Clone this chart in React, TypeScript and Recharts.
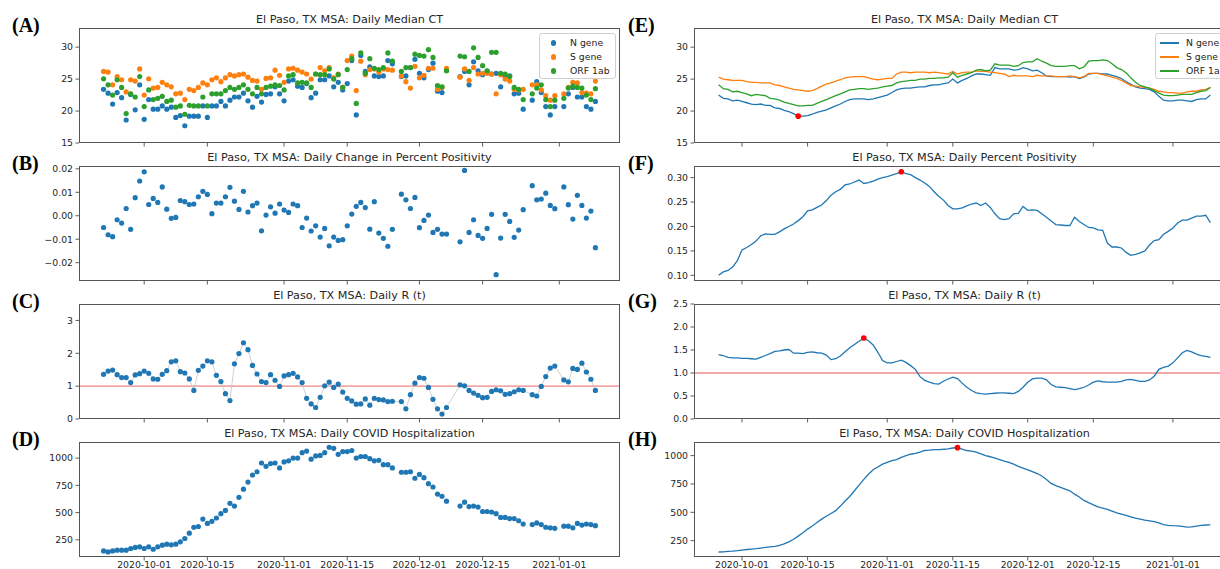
import React from "react";
import {
  ScatterChart,
  Scatter,
  ComposedChart,
  Line,
  XAxis,
  YAxis,
  ReferenceLine,
  ReferenceDot,
} from "recharts";

// x positions are days counted from 2020-10-01
const X_TICKS = [0, 14, 31, 45, 61, 75, 92];
const X_TICK_LABELS = ["2020-10-01", "2020-10-15", "2020-11-01", "2020-11-15", "2020-12-01", "2020-12-15", "2021-01-01"];

const FIRST_DAY_RAW = -9; // left column: 2020-09-22 .. 2021-01-09
const FIRST_DAY_SMOOTH = -5; // right column: 2020-09-26 .. 2021-01-09

// (A) daily median CT
const CT_N = [
  23.4, 22.8, 21.1, 22.9, 22.1, 18.6, 22.6, 20.2, 24.1, 18.7,
  21.8, 20.3, 20.3, 20.8, 20.3, 20.6, 19.0, 19.3, 17.7, 19.2,
  19.2, 19.2, 20.8, 19.0, 20.8, 20.8, 21.5, 20.8, 21.7, 22.2,
  22.2, 22.8, 21.6, 20.6, 22.3, 21.4, 22.6, 22.7, 23.8, 22.7,
  21.6, 24.7, 24.9, 23.9, 23.7, 24.3, 22.1, 22.8, 24.9, 24.9,
  25.5, 23.8, 24.5, 23.3, 24.3, 27.9, 19.4, 28.7, 26.2, 26.9,
  25.5, 25.4, 25.5, 27.9, 27.4, null, 25.4, 25.5, 26.8, 28.1,
  25.9, 25.2, 26.5, 27.5, 23.1, 22.9, 26.4, null, null, 25.4,
  26.2, 24.1, 27.7, 26.3, 25.7, 26.2, 25.8, 25.9, 23.8, 25.4,
  25.5, 22.7, 22.8, 20.3, null, 21.7, 24.6, 22.9, 20.7, 19.4,
  20.7, null, 20.7, 22.7, 23.7, 22.2, 22.2, 20.7, 20.3, 21.5,
];
const CT_S = [
  26.2, 26.1, 24.1, 25.4, 24.9, 23.0, 24.9, 24.7, 26.6, 22.5,
  25.05, 23.6, 23.7, 24.5, 24.1, 23.8, 22.7, 22.8, 21.8, 23.4,
  23.2, 23.7, 24.4, 24.1, 24.9, 25.2, 24.6, 25.2, 25.7, 25.5,
  25.7, 25.8, 25.3, 24.8, 24.7, 23.4, 25.1, 25.2, 26.4, 25.6,
  24.5, 26.6, 26.7, 26.4, 26.1, 25.8, 25.0, 25.8, 26.8, 26.3,
  26.8, 25.2, 25.8, 23.7, 27.9, 28.6, 23.2, 27.8, 25.7, 26.5,
  26.6, 26.1, 26.6, 26.5, 26.4, null, 25.5, 24.6, 23.6, 27.0,
  25.2, 25.6, 26.7, 26.7, 23.4, 23.7, 26.7, null, null, 25.3,
  26.6, 24.8, 26.8, 25.8, 25.9, 25.9, 25.8, 22.7, 25.7, 25.0,
  24.7, 23.4, 23.3, 23.4, null, 24.1, 24.1, 23.3, 22.4, 21.7,
  22.4, null, 22.7, 23.7, 24.5, 24.4, 22.9, 22.8, 22.7, 24.7,
];
const CT_ORF = [
  25.05, 24.1, 22.5, 24.9, 23.7, 19.6, 22.7, 22.2, 25.4, 20.7,
  23.3, 21.8, 22.0, 22.3, 21.5, 21.7, 20.6, 20.8, 19.5, 20.9,
  20.8, 20.8, 22.2, 20.8, 22.7, 22.7, 22.7, 23.2, 23.7, 23.4,
  23.7, 24.1, 23.4, 22.7, 23.7, 22.7, 23.7, 23.9, 24.1, 24.0,
  23.3, 25.5, 25.7, 24.4, 24.5, 24.4, 23.7, 25.8, 25.7, 25.7,
  26.6, 25.0, 25.7, 23.7, 26.5, 28.2, 21.2, 29.1, 25.9, 28.2,
  26.7, 26.5, 26.8, 29.1, 27.8, null, 26.2, 26.8, 26.8, 28.9,
  28.7, 28.6, 29.6, 28.4, 24.0, 23.8, 26.3, null, null, 28.6,
  28.5, 26.2, 29.9, 28.4, 27.1, 26.3, 29.2, 29.2, 25.9, 25.8,
  25.4, 23.7, 23.4, 21.8, null, 22.7, 23.6, 24.1, 21.8, 20.7,
  21.7, null, 22.0, 23.6, 23.9, 23.7, 23.6, 22.5, 21.8, 23.5,
];

// (B) daily change in percent positivity
const POS_CHANGE = [
  -0.005, -0.0081, -0.0089, -0.0017, -0.0031, 0.0031, -0.0058, 0.0077, 0.0148, 0.0187,
  0.0048, 0.0074, 0.0057, 0.0123, 0.0028, -0.0011, -0.0007, 0.0065, 0.006, 0.0048,
  0.005, 0.0081, 0.0104, 0.0091, 0.0009, 0.0054, 0.0054, 0.0081, 0.0121, 0.0062,
  0.0027, 0.0104, 0.0016, 0.0043, 0.0054, -0.0064, 0.0003, 0.0038, 0.0011, 0.005,
  0.0024, 0.0014, 0.005, 0.0043, -0.005, -0.001, -0.0065, -0.0043, -0.0091, -0.0054,
  -0.0128, -0.0091, -0.0105, -0.0102, -0.0043, 0.0007, 0.004, 0.0057, 0.0035, -0.0057,
  0.006, -0.0074, -0.0096, -0.013, -0.0058, null, 0.0092, 0.0068, 0.0031, 0.0078,
  -0.0051, -0.002, 0.0003, -0.0071, -0.0058, -0.0078, -0.0078, null, null, -0.0111,
  0.0193, -0.0071, -0.0017, -0.0084, -0.0096, -0.0054, 0.0006, -0.0251, -0.0095, 0.0006,
  -0.0024, -0.0092, -0.0061, 0.0026, null, 0.0128, 0.0068, 0.0071, 0.0096, 0.0044,
  0.003, null, 0.0123, 0.0047, -0.0014, 0.0087, 0.0044, -0.001, 0.002, -0.0136,
];

// (C) daily R(t)
const RT_DAILY = [
  1.36, 1.46, 1.49, 1.35, 1.26, 1.26, 1.11, 1.34, 1.38, 1.46,
  1.39, 1.22, 1.21, 1.36, 1.47, 1.74, 1.77, 1.44, 1.4, 1.22,
  0.87, 1.48, 1.61, 1.77, 1.74, 1.33, 1.14, 0.77, 0.56, 1.68,
  1.99, 2.32, 2.11, 1.63, 1.37, 1.14, 1.11, 1.35, 1.18, 0.99,
  1.31, 1.35, 1.39, 1.28, 1.11, 0.63, 0.46, 0.35, 0.66, 1.01,
  1.12, 0.96, 1.06, 0.82, 0.63, 0.55, 0.45, 0.46, 0.61, 0.42,
  0.63, 0.59, 0.58, 0.53, 0.54, null, 0.53, 0.31, 0.74, 1.09,
  1.26, 1.24, 0.96, 0.6, 0.31, 0.15, 0.35, null, null, 1.04,
  1.01, 0.87, 0.79, 0.72, 0.65, 0.66, 0.84, 0.89, 0.86, 0.75,
  0.77, 0.83, 0.89, 0.87, null, 0.74, 0.7, 0.99, 1.29, 1.55,
  1.61, null, 1.19, 1.13, 1.54, 1.51, 1.7, 1.43, 1.21, 0.87,
];

// (D) daily COVID hospitalization
const HOSP_DAILY = [
  148, 139, 148, 155, 155, 155, 170, 180, 185, 170,
  185, 163, 185, 201, 210, 204, 210, 231, 262, 311,
  365, 372, 440, 400, 420, 450, 490, 520, 585, 560,
  640, 715, 780, 845, 875, 955, 925, 950, 955, 910,
  965, 975, 1000, 1000, 1050, 1065, 990, 1020, 1025, 1050,
  1100, 1090, 1035, 1060, 1060, 1070, 1000, 1015, 1015, 995,
  975, 980, 940, 940, 910, null, 870, 870, 875, 815,
  850, 820, 765, 735, 670, 650, 605, null, null, 560,
  595, 555, 560, 550, 510, 510, 505, 490, 455, 455,
  445, 445, 425, 395, null, 390, 405, 390, 365, 360,
  355, null, 375, 375, 360, 400, 385, 395, 390, 380,
];

// (E) smoothed median CT
const SM_N = [
  22.5, 22.0, 21.9, 21.6, 21.7, 21.5, 21.3, 21.1, 21.0, 21.1,
  20.9, 20.9, 20.5, 20.4, 20.1, 19.9, 19.6, 19.2, 19.2, 19.3,
  19.5, 19.8, 20.0, 20.2, 20.5, 20.8, 21.1, 21.5, 21.8, 21.9,
  21.9, 21.9, 21.8, 21.9, 22.1, 22.3, 22.5, 22.9, 23.3, 23.5,
  23.6, 23.6, 23.7, 23.8, 23.8, 24.0, 24.1, 24.1, 24.3, 24.4,
  25.0, 24.4, 24.8, 25.1, 25.5, 25.8, 25.8, 25.7, 25.6, 26.8,
  26.6, 26.6, 26.6, 26.4, 26.5, 26.8, 26.6, 26.3, 26.4, 26.0,
  25.5, 25.4, 25.4, 25.4, 25.4, 25.3, 25.4, 25.1, 25.3, 25.8,
  25.9, 25.9, 25.8, 25.8, 25.6, 25.4, 25.1, 24.6, 24.2, 23.8,
  23.6, 23.5, 23.4, 23.0, 22.3, 21.7, 21.6, 21.6, 21.7, 21.7,
  21.6, 21.5, 21.8, 21.9, 21.9, 22.5,
];
const SM_S = [
  25.3, 25.0, 24.9, 24.8, 24.8, 24.8, 24.6, 24.5, 24.5, 24.4,
  24.4, 24.4, 24.1, 24.0, 23.8, 23.6, 23.4, 23.3, 23.2, 23.1,
  23.2, 23.5, 23.9, 24.2, 24.4, 24.7, 24.9, 25.2, 25.3, 25.4,
  25.4, 25.4, 25.2, 25.0, 24.9, 25.0, 25.1, 25.1, 25.8, 26.1,
  26.1, 26.0, 26.1, 26.1, 26.1, 26.0, 26.1, 26.0, 25.9, 25.8,
  26.2, 25.8, 26.0, 26.1, 26.1, 26.3, 26.2, 26.2, 26.1, 26.0,
  25.9, 25.8, 25.4, 25.6, 25.5, 25.5, 25.5, 25.4, 25.6, 25.5,
  25.5, 25.5, 25.4, 25.4, 25.4, 25.5, 25.4, 25.2, 25.4, 25.9,
  25.9, 25.9, 25.7, 25.5, 25.3, 25.1, 24.8, 24.4, 24.0, 23.9,
  23.8, 23.7, 23.6, 23.4, 23.1, 23.0, 22.9, 22.9, 22.8, 22.8,
  23.0, 23.1, 23.1, 23.3, 23.4, 23.7,
];
const SM_ORF = [
  24.1, 23.5, 23.4, 23.0, 23.1, 22.9, 22.7, 22.4, 22.6, 22.5,
  22.4, 22.0, 21.9, 21.7, 21.4, 21.2, 21.0, 20.8, 20.8, 20.9,
  20.9, 21.2, 21.5, 21.8, 22.1, 22.4, 22.7, 23.0, 23.3, 23.4,
  23.5, 23.5, 23.4, 23.5, 23.6, 23.8, 23.9, 24.0, 24.4, 24.6,
  24.7, 24.8, 24.8, 25.0, 25.0, 25.1, 25.1, 25.2, 25.2, 25.3,
  26.0, 25.3, 25.6, 25.8, 26.0, 26.4, 26.5, 26.3, 26.4, 27.4,
  27.2, 27.2, 27.2, 27.0, 27.1, 27.6, 27.7, 27.7, 28.2, 27.8,
  27.5, 27.1, 27.0, 27.0, 27.0, 27.1, 27.1, 26.6, 26.9, 27.8,
  27.9, 27.9, 28.0, 27.9, 27.4, 26.8, 26.5, 26.0, 25.2, 24.5,
  24.0, 23.8, 23.6, 23.2, 22.8, 22.5, 22.4, 22.4, 22.5, 22.6,
  22.6, 22.6, 22.9, 23.1, 23.2, 23.7,
];

// (F) smoothed percent positivity
const SM_POS = [
  0.1, 0.107, 0.11, 0.117, 0.13, 0.152, 0.157, 0.163, 0.17, 0.181,
  0.185, 0.184, 0.184, 0.189, 0.195, 0.2, 0.205, 0.212, 0.22, 0.232,
  0.234, 0.239, 0.244, 0.253, 0.264, 0.271, 0.276, 0.285, 0.287, 0.291,
  0.295, 0.288, 0.29, 0.293, 0.297, 0.3, 0.302, 0.305, 0.308, 0.312,
  0.308, 0.306, 0.3, 0.295, 0.289, 0.282, 0.271, 0.262, 0.254, 0.243,
  0.236, 0.236, 0.238, 0.242, 0.246, 0.248, 0.243, 0.248, 0.239, 0.226,
  0.216, 0.214, 0.216, 0.226, 0.227, 0.241, 0.233, 0.234, 0.233, 0.226,
  0.219, 0.211, 0.204, 0.203, 0.202, 0.202, 0.219, 0.21, 0.204, 0.198,
  0.197, 0.193, 0.192, 0.166, 0.158, 0.158, 0.156, 0.147, 0.141, 0.143,
  0.146, 0.15, 0.162, 0.171, 0.173, 0.184, 0.19, 0.197, 0.207, 0.213,
  0.213, 0.217, 0.221, 0.221, 0.223, 0.208,
];

// (G) smoothed R(t)
const SM_RT = [
  1.4, 1.38, 1.34, 1.33, 1.33, 1.32, 1.32, 1.31, 1.3, 1.34,
  1.38, 1.42, 1.47, 1.48, 1.5, 1.51, 1.43, 1.43, 1.42, 1.45,
  1.46, 1.44, 1.43, 1.39, 1.29, 1.31, 1.37, 1.46, 1.55, 1.62,
  1.69, 1.76, 1.7, 1.61, 1.45, 1.27, 1.22, 1.22, 1.25, 1.28,
  1.23, 1.16, 1.08, 0.92, 0.84, 0.8, 0.77, 0.76, 0.82, 0.87,
  0.91, 0.88, 0.78, 0.69, 0.62, 0.57, 0.55, 0.54, 0.55, 0.56,
  0.57, 0.57, 0.56, 0.55, 0.6, 0.69, 0.8, 0.87, 0.89, 0.89,
  0.85, 0.75, 0.7, 0.69, 0.68, 0.66, 0.64, 0.66, 0.69, 0.74,
  0.8, 0.83, 0.81, 0.8, 0.8, 0.8, 0.82, 0.85, 0.86, 0.84,
  0.82, 0.82, 0.85, 0.93, 1.08, 1.12, 1.15, 1.22, 1.33, 1.44,
  1.49, 1.46, 1.41, 1.38, 1.36, 1.34,
];

// (H) smoothed hospitalization
const SM_HOSP = [
  150, 152, 155, 158, 162, 167, 172, 176, 180, 185,
  190, 196, 200, 208, 222, 240, 262, 290, 320, 352,
  380, 410, 440, 465, 490, 515, 555, 600, 640, 690,
  740, 790, 835, 875, 900, 925, 940, 955, 965, 985,
  1000, 1012, 1020, 1030, 1045, 1048, 1052, 1053, 1056, 1060,
  1067, 1070, 1058, 1045, 1040, 1030, 1015, 1000, 990, 978,
  965, 952, 940, 925, 905, 890, 875, 858, 842, 820,
  790, 755, 735, 720, 705, 690, 660, 635, 605, 585,
  565, 548, 538, 525, 510, 496, 484, 472, 460, 448,
  440, 432, 425, 418, 406, 392, 385, 382, 380, 376,
  370, 372, 378, 385, 388, 389,
];

const BLUE = "#1f77b4";
const ORANGE = "#ff7f0e";
const GREEN = "#2ca02c";
const TICK_FONT = { fontSize: 9.3, fill: "#262626", fontFamily: "DejaVu Sans" };

const PLOT_W = 541;
const PLOT_H = 115;
const Y_W = 45;
const TOP_PAD = 20;
const X_H = 25;
const ROW_TOPS = [28, 166, 304, 442];
const LEFT_X = 79;
const RIGHT_X = 694;
const LEFT_DOMAIN = [-14.45, 105.45];
const RIGHT_DOMAIN = [-10.25, 105.25];

const points = (vals: (number | null)[], first: number) =>
  vals.map((v, i) => ({ day: first + i, v })).filter((p) => p.v !== null);

const rows = (first: number, cols: Record<string, (number | null)[]>) => {
  const n = Object.values(cols)[0].length;
  return Array.from({ length: n }, (_, i) => {
    const r: any = { day: first + i };
    Object.keys(cols).forEach((k) => (r[k] = cols[k][i]));
    return r;
  });
};

const peak = (vals: number[], first: number, useMin = false) => {
  let idx = 0;
  vals.forEach((v, i) => {
    if (useMin ? v < vals[idx] : v > vals[idx]) idx = i;
  });
  return { day: first + idx, v: vals[idx] };
};

const minus = (s: string) => s.replace("-", "\u2212");

function xAxis(domain: number[], showLabels: boolean) {
  return (
    <XAxis
      type="number"
      dataKey="day"
      domain={domain}
      allowDataOverflow
      ticks={X_TICKS}
      interval={0}
      height={X_H}
      axisLine={false}
      tickSize={3.5}
      tickMargin={0.5}
      tickLine={{ stroke: "#333", strokeWidth: 0.8 }}
      tick={TICK_FONT}
      tickFormatter={(v: number) => (showLabels ? X_TICK_LABELS[X_TICKS.indexOf(v)] : "")}
    />
  );
}

function yAxis(domain: number[], ticks: number[], fmt: (v: number) => string) {
  return (
    <YAxis
      type="number"
      dataKey="v"
      domain={domain}
      allowDataOverflow
      ticks={ticks}
      interval={0}
      width={Y_W}
      axisLine={false}
      tickSize={3.5}
      tickMargin={2.5}
      tickLine={{ stroke: "#333", strokeWidth: 0.8 }}
      tick={TICK_FONT}
      tickFormatter={fmt}
    />
  );
}

const dot = (color: string) => (p: any) =>
  p.cx == null || p.cy == null ? <g /> : <circle cx={p.cx} cy={p.cy} r={2.6} fill={color} />;

function Panel({ x, row, title, label, labelX, children }: any) {
  const top = ROW_TOPS[row];
  return (
    <>
      <div style={{ position: "absolute", left: x - Y_W, top: top - TOP_PAD }}>{children}</div>
      <div
        style={{
          position: "absolute",
          left: x,
          top,
          width: PLOT_W,
          height: PLOT_H,
          border: "1px solid #555",
          boxSizing: "border-box",
          pointerEvents: "none",
        }}
      />
      <div
        style={{
          position: "absolute",
          left: x,
          top: top - 14,
          width: PLOT_W,
          textAlign: "center",
          fontFamily: "DejaVu Sans",
          fontSize: 11.2,
          lineHeight: "12px",
          color: "#262626",
          whiteSpace: "nowrap",
        }}
      >
        {title}
      </div>
      <div
        style={{
          position: "absolute",
          left: labelX,
          top: top - 13,
          fontFamily: "Liberation Serif",
          fontWeight: 700,
          fontSize: 20,
          lineHeight: "20px",
          color: "#000",
        }}
      >
        {label}
      </div>
    </>
  );
}

function LegendBox({ left, kind }: { left: number; kind: "dot" | "line" }) {
  const items = [
    ["N gene", BLUE],
    ["S gene", ORANGE],
    ["ORF 1ab", GREEN],
  ];
  return (
    <div
      style={{
        position: "absolute",
        left,
        top: 33,
        width: 77,
        height: 46,
        border: "1px solid #d0d0d0",
        borderRadius: 3,
        background: "rgba(255,255,255,0.85)",
        boxSizing: "border-box",
      }}
    >
      {items.map(([name, color], i) => (
        <div key={name} style={{ position: "absolute", left: 0, top: 3 + i * 14, height: 12, width: 90 }}>
          {kind === "dot" ? (
            <div
              style={{
                position: "absolute",
                left: 10.5,
                top: 3.4,
                width: 5.2,
                height: 5.2,
                borderRadius: "50%",
                background: color,
              }}
            />
          ) : (
            <div style={{ position: "absolute", left: 3.5, top: 5.3, width: 19, height: 1.4, background: color }} />
          )}
          <div
            style={{
              position: "absolute",
              left: 30,
              top: 0,
              fontFamily: "DejaVu Sans",
              fontSize: 9.3,
              lineHeight: "12px",
              color: "#262626",
              whiteSpace: "nowrap",
            }}
          >
            {name}
          </div>
        </div>
      ))}
    </div>
  );
}

export default function App() {
  const W = Y_W + PLOT_W + 5;
  const H = TOP_PAD + PLOT_H + X_H;
  const margin = { top: TOP_PAD, right: 5, bottom: 0, left: 0 };

  const smCt = rows(FIRST_DAY_SMOOTH, { n: SM_N, s: SM_S, orf: SM_ORF });
  const smPos = rows(FIRST_DAY_SMOOTH, { v: SM_POS });
  const smRt = rows(FIRST_DAY_SMOOTH, { v: SM_RT });
  const smHosp = rows(FIRST_DAY_SMOOTH, { v: SM_HOSP });
  const rtRows = rows(FIRST_DAY_RAW, { v: RT_DAILY });

  const ctMin = peak(SM_N, FIRST_DAY_SMOOTH, true);
  const posMax = peak(SM_POS, FIRST_DAY_SMOOTH);
  const rtMax = peak(SM_RT, FIRST_DAY_SMOOTH);
  const hospMax = peak(SM_HOSP, FIRST_DAY_SMOOTH);

  const intFmt = (v: number) => String(v);

  return (
    <div
      style={{
        position: "fixed",
        left: 0,
        top: 0,
        width: 1220,
        height: 569,
        overflow: "hidden",
        background: "#fff",
      }}
    >
      {/* left column: daily values */}
      <Panel x={LEFT_X} row={0} title="El Paso, TX MSA: Daily Median CT" label="(A)" labelX={12}>
        <ScatterChart width={W} height={H} margin={margin}>
          {xAxis(LEFT_DOMAIN, false)}
          {yAxis([15, 33], [15, 20, 25, 30], intFmt)}
          <Scatter data={points(CT_N, FIRST_DAY_RAW)} shape={dot(BLUE)} isAnimationActive={false} />
          <Scatter data={points(CT_S, FIRST_DAY_RAW)} shape={dot(ORANGE)} isAnimationActive={false} />
          <Scatter data={points(CT_ORF, FIRST_DAY_RAW)} shape={dot(GREEN)} isAnimationActive={false} />
        </ScatterChart>
      </Panel>
      <LegendBox left={539} kind="dot" />

      <Panel x={LEFT_X} row={1} title="El Paso, TX MSA: Daily Change in Percent Positivity" label="(B)" labelX={12}>
        <ScatterChart width={W} height={H} margin={margin}>
          {xAxis(LEFT_DOMAIN, false)}
          {yAxis([-0.0278, 0.0212], [-0.02, -0.01, 0, 0.01, 0.02], (v) => minus(v.toFixed(2)))}
          <Scatter data={points(POS_CHANGE, FIRST_DAY_RAW)} shape={dot(BLUE)} isAnimationActive={false} />
        </ScatterChart>
      </Panel>

      <Panel x={LEFT_X} row={2} title="El Paso, TX MSA: Daily R (t)" label="(C)" labelX={12}>
        <ComposedChart width={W} height={H} margin={margin} data={rtRows}>
          {xAxis(LEFT_DOMAIN, false)}
          {yAxis([0, 3.5], [0, 1, 2, 3], intFmt)}
          <ReferenceLine y={1} stroke="#f3a7a7" strokeWidth={1.8} />
          <Line
            dataKey="v"
            connectNulls
            stroke="#c4c4c4"
            strokeWidth={0.8}
            dot={{ r: 2.6, fill: BLUE, stroke: "none", strokeWidth: 0 }}
            isAnimationActive={false}
          />
        </ComposedChart>
      </Panel>

      <Panel x={LEFT_X} row={3} title="El Paso, TX MSA: Daily COVID Hospitalization" label="(D)" labelX={12}>
        <ScatterChart width={W} height={H} margin={margin}>
          {xAxis(LEFT_DOMAIN, true)}
          {yAxis([92, 1148], [250, 500, 750, 1000], intFmt)}
          <Scatter data={points(HOSP_DAILY, FIRST_DAY_RAW)} shape={dot(BLUE)} isAnimationActive={false} />
        </ScatterChart>
      </Panel>

      {/* right column: smoothed values */}
      <Panel x={RIGHT_X} row={0} title="El Paso, TX MSA: Daily Median CT" label="(E)" labelX={628}>
        <ComposedChart width={W} height={H} margin={margin} data={smCt}>
          {xAxis(RIGHT_DOMAIN, false)}
          {yAxis([15, 33], [15, 20, 25, 30], intFmt)}
          <Line dataKey="n" stroke={BLUE} strokeWidth={1.3} dot={false} isAnimationActive={false} />
          <Line dataKey="s" stroke={ORANGE} strokeWidth={1.3} dot={false} isAnimationActive={false} />
          <Line dataKey="orf" stroke={GREEN} strokeWidth={1.3} dot={false} isAnimationActive={false} />
          <ReferenceDot x={ctMin.day} y={ctMin.v} r={2.8} fill="#ff0000" stroke="none" />
        </ComposedChart>
      </Panel>
      <LegendBox left={1155} kind="line" />

      <Panel x={RIGHT_X} row={1} title="El Paso, TX MSA: Daily Percent Positivity" label="(F)" labelX={628}>
        <ComposedChart width={W} height={H} margin={margin} data={smPos}>
          {xAxis(RIGHT_DOMAIN, false)}
          {yAxis([0.0884, 0.3238], [0.1, 0.15, 0.2, 0.25, 0.3], (v) => v.toFixed(2))}
          <Line dataKey="v" stroke={BLUE} strokeWidth={1.3} dot={false} isAnimationActive={false} />
          <ReferenceDot x={posMax.day} y={posMax.v} r={2.8} fill="#ff0000" stroke="none" />
        </ComposedChart>
      </Panel>

      <Panel x={RIGHT_X} row={2} title="El Paso, TX MSA: Daily R (t)" label="(G)" labelX={628}>
        <ComposedChart width={W} height={H} margin={margin} data={smRt}>
          {xAxis(RIGHT_DOMAIN, false)}
          {yAxis([0, 2.5], [0, 0.5, 1, 1.5, 2, 2.5], (v) => v.toFixed(1))}
          <ReferenceLine y={1} stroke="#f3a7a7" strokeWidth={1.8} />
          <Line dataKey="v" stroke={BLUE} strokeWidth={1.3} dot={false} isAnimationActive={false} />
          <ReferenceDot x={rtMax.day} y={rtMax.v} r={2.8} fill="#ff0000" stroke="none" />
        </ComposedChart>
      </Panel>

      <Panel x={RIGHT_X} row={3} title="El Paso, TX MSA: Daily COVID Hospitalization" label="(H)" labelX={628}>
        <ComposedChart width={W} height={H} margin={margin} data={smHosp}>
          {xAxis(RIGHT_DOMAIN, true)}
          {yAxis([106, 1120], [250, 500, 750, 1000], intFmt)}
          <Line dataKey="v" stroke={BLUE} strokeWidth={1.3} dot={false} isAnimationActive={false} />
          <ReferenceDot x={hospMax.day} y={hospMax.v} r={2.8} fill="#ff0000" stroke="none" />
        </ComposedChart>
      </Panel>
    </div>
  );
}
